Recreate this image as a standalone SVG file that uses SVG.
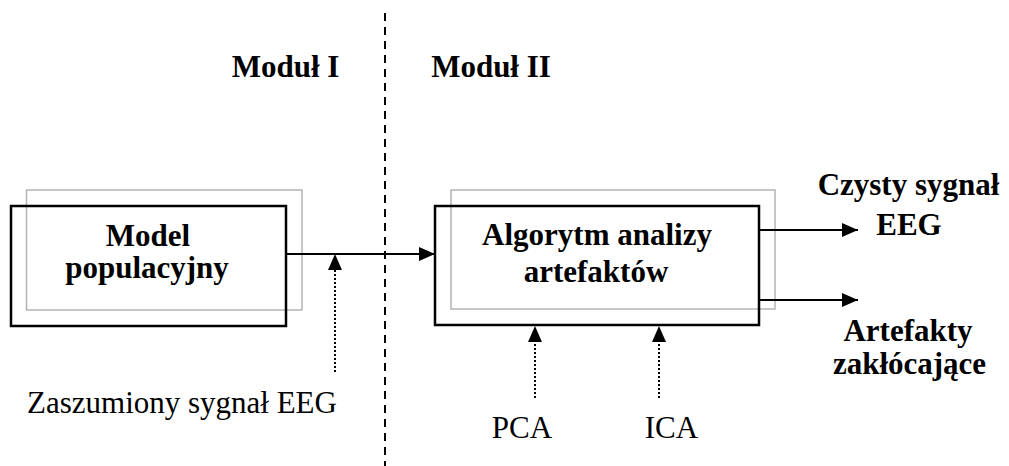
<svg xmlns="http://www.w3.org/2000/svg" width="1009" height="466" viewBox="0 0 1009 466">
  <style>
    .bold { font-family: "Liberation Serif", "Times New Roman", serif; font-weight: bold; font-size: 31px; fill: #000; }
    .reg { font-family: "Liberation Serif", "Times New Roman", serif; font-size: 31px; fill: #000; }
    .shadow { fill: none; stroke: #b4b4b4; stroke-width: 1.5; }
    .box { fill: none; stroke: #000; stroke-width: 2.5; }
    .line { fill: none; stroke: #000; stroke-width: 2; }
    .dotted { fill: none; stroke: #000; stroke-width: 2; stroke-dasharray: 2 2; }
    .divider { fill: none; stroke: #000; stroke-width: 2; stroke-dasharray: 8 6; }
  </style>
  <defs>
    <marker id="arrow" viewBox="0 0 16 14" refX="16" refY="7" markerWidth="16" markerHeight="14" markerUnits="userSpaceOnUse" orient="auto">
      <path d="M0,0 L16,7 L0,14 Z" fill="#000"/>
    </marker>
  </defs>
  <rect width="1009" height="466" fill="#fff"/>

  <!-- module divider -->
  <line class="divider" x1="385" y1="13" x2="385" y2="466"/>
  <text class="bold" x="285.5" y="77" text-anchor="middle">Moduł I</text>
  <text class="bold" x="491" y="77" text-anchor="middle">Moduł II</text>

  <g id="model">
    <rect class="shadow" x="26.5" y="190" width="275.5" height="120"/>
    <rect class="box" x="11" y="206" width="275" height="120"/>
    <text class="bold" x="148" y="246" text-anchor="middle">Model</text>
    <text class="bold" x="147" y="278" text-anchor="middle">populacyjny</text>
  </g>

  <g id="algorytm">
    <rect class="shadow" x="451" y="190" width="324" height="119"/>
    <rect class="box" x="435" y="206" width="324" height="119"/>
    <text class="bold" x="597" y="245" text-anchor="middle">Algorytm analizy</text>
    <text class="bold" x="596" y="282" text-anchor="middle">artefaktów</text>
  </g>

  <g id="czysty">
    <text class="bold" x="908.5" y="195" text-anchor="middle">Czysty sygnał</text>
    <text class="bold" x="909" y="235" text-anchor="middle">EEG</text>
  </g>

  <g id="artefakty">
    <text class="bold" x="908" y="341" text-anchor="middle">Artefakty</text>
    <text class="bold" x="909.5" y="374" text-anchor="middle">zakłócające</text>
  </g>

  <g id="szum">
    <text class="reg" x="27" y="413">Zaszumiony sygnał EEG</text>
  </g>
  <g id="pca">
    <text class="reg" x="522" y="438" text-anchor="middle">PCA</text>
  </g>
  <g id="ica">
    <text class="reg" x="671.5" y="438" text-anchor="middle">ICA</text>
  </g>

  <g id="connectors">
    <line class="line" x1="286" y1="254" x2="435" y2="254" marker-end="url(#arrow)"/>
    <line class="line" x1="759" y1="230" x2="858" y2="230" marker-end="url(#arrow)"/>
    <line class="line" x1="759" y1="300" x2="858" y2="300" marker-end="url(#arrow)"/>
    <line class="dotted" x1="335" y1="372" x2="335" y2="270"/>
    <path d="M328,270 L335,254 L342,270 Z" fill="#000"/>
    <line class="dotted" x1="535" y1="398" x2="535" y2="342"/>
    <path d="M528,342 L535,326 L542,342 Z" fill="#000"/>
    <line class="dotted" x1="659" y1="398" x2="659" y2="342"/>
    <path d="M652,342 L659,326 L666,342 Z" fill="#000"/>
  </g>
</svg>
